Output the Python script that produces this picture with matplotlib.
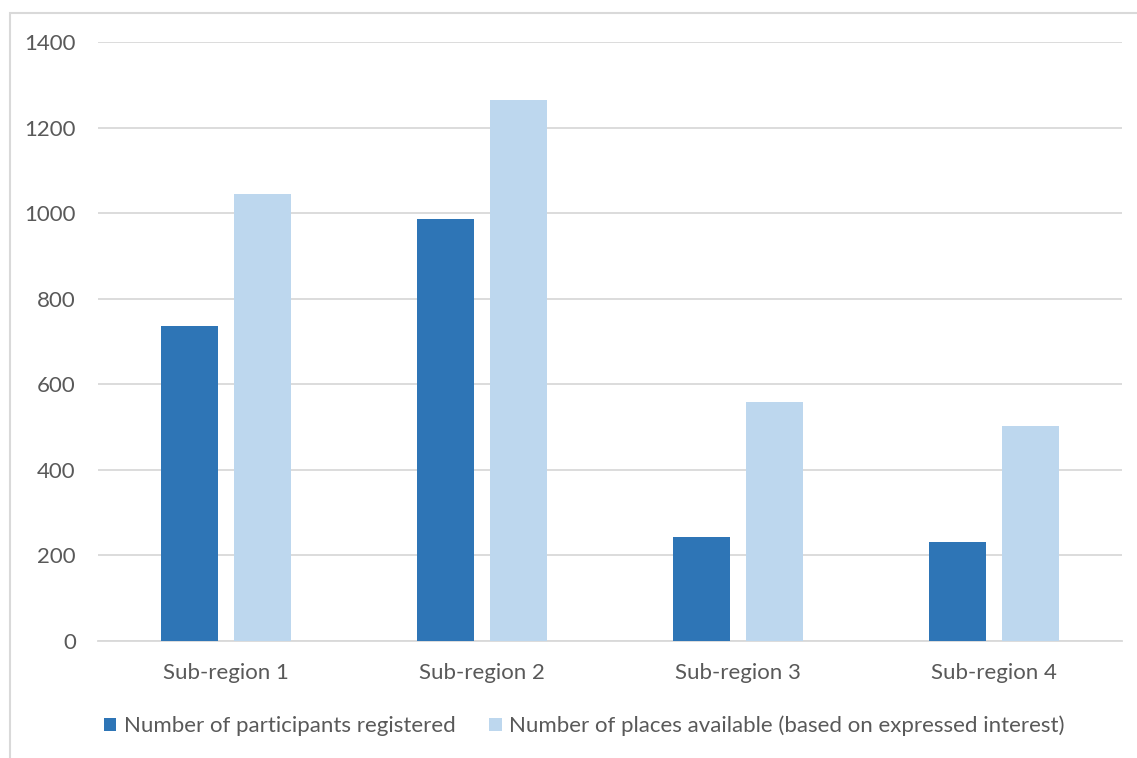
import matplotlib
matplotlib.use("Agg")
import matplotlib.pyplot as plt
import matplotlib.patches as mpatches
import numpy as np

categories = ["Sub-region 1", "Sub-region 2", "Sub-region 3", "Sub-region 4"]
registered = [736, 986, 243, 231]
available = [1045, 1264, 558, 502]
series_names = ["Number of participants registered",
                "Number of places available (based on expressed interest)"]
yticks = [0, 200, 400, 600, 800, 1000, 1200, 1400]

plt.rcParams['font.family'] = ['Lato', 'DejaVu Sans']
TXT = '#595959'
FS = 16
W, H = 1137, 758
fig = plt.figure(figsize=(W / 100, H / 100), dpi=100)
ax = fig.add_axes([98 / W, 1 - 641 / H, (1122 - 98) / W, (641 - 42) / H])

x = np.arange(len(categories))
bw = 57 / 256
off = 36.5 / 256
ax.bar(x - off, registered, width=bw, color='#2E75B6', label=series_names[0], zorder=3)
ax.bar(x + off, available, width=bw, color='#BDD7EE', label=series_names[1], zorder=3)

ax.set_xlim(-0.5, len(categories) - 0.5)
ax.set_ylim(0, 1400)
ax.set_yticks(yticks)
ax.set_yticklabels([str(v) for v in yticks])
ax.set_xticks(x)
ax.set_xticklabels(categories)
ax.tick_params(axis='both', length=0, colors=TXT, labelsize=FS)
ax.tick_params(axis='y', pad=16)
ax.tick_params(axis='x', pad=16)
ax.grid(axis='y', color='#D9D9D9', linewidth=1.3, zorder=0)
for s in ['top', 'right', 'left']:
    ax.spines[s].set_visible(False)
ax.spines['bottom'].set_color('#D9D9D9')
ax.spines['bottom'].set_linewidth(1.3)

leg = fig.legend(loc='center', bbox_to_anchor=(584.5 / W, 1 - 726 / H), ncol=2,
                 frameon=False, fontsize=FS, handlelength=0.55, handleheight=0.55,
                 handletextpad=0.35, columnspacing=1.5, labelcolor=TXT)

border = mpatches.Rectangle((9.5 / W, -0.1), 1.2, 1 - 13.5 / H + 0.1,
                            transform=fig.transFigure, fill=False,
                            edgecolor='#D9D9D9', linewidth=1.5)
fig.patches.append(border)

fig.savefig('out.png', dpi=100)
